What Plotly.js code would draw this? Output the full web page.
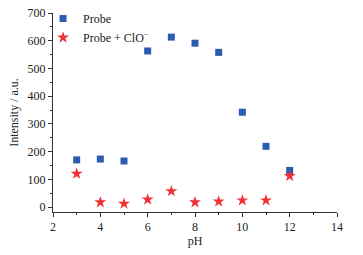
<!DOCTYPE html>
<html><head><meta charset="utf-8">
<script src="https://cdn.plot.ly/plotly-3.0.1.min.js"></script>
<style>html,body{margin:0;padding:0;background:#fff}#c{width:363px;height:255px}</style>
</head><body><div id="c"></div>
<script>
const pH = [3,4,5,6,7,8,9,10,11,12];
const probe = [170,173,166,563,613,591,558,342,219,132];
const probeClO = [120,17,12,27,57,17,20,24,24,112];
const xTicks = [2,4,6,8,10,12,14];
const yTicks = [0,100,200,300,400,500,600,700];

const fontF = 'Liberation Serif, Times New Roman, serif';
const data = [
 {x:pH, y:probe, mode:'markers', type:'scatter', name:'Probe',
  marker:{symbol:'square', size:7, color:'#2b5caf'}},
 {x:pH, y:probeClO, mode:'markers', type:'scatter', name:'Probe + ClO<sup>−</sup>',
  marker:{symbol:'star', size:9, color:'#f03236'}}
];
const layout = {
 width:363, height:255,
 margin:{l:53, r:26, t:13, b:43, autoexpand:false},
 paper_bgcolor:'#fff', plot_bgcolor:'#fff',
 font:{family:fontF, size:12, color:'#222'},
 showlegend:true,
 legend:{x:-0.035, y:1.045, xanchor:'left', yanchor:'top', bgcolor:'rgba(0,0,0,0)', font:{size:12}, itemwidth:30},
 xaxis:{range:[2,14], tickvals:xTicks, ticks:'outside', ticklen:4, tickcolor:'#333',
   showline:true, linecolor:'#333', linewidth:1, showgrid:false, zeroline:false,
   minor:{dtick:1, ticks:'outside', ticklen:2, tickcolor:'#333'},
   title:{text:'pH', font:{size:12}, standoff:0}},
 yaxis:{range:[-18,700], tickvals:yTicks, ticks:'outside', ticklen:4, tickcolor:'#333',
   showline:true, linecolor:'#333', linewidth:1, showgrid:false, zeroline:false,
   minor:{dtick:50, ticks:'outside', ticklen:2, tickcolor:'#333'},
   title:{text:'Intensity / a.u.', font:{size:12}, standoff:6}}
};
Plotly.newPlot('c', data, layout, {displayModeBar:false, staticPlot:true});
</script></body></html>
